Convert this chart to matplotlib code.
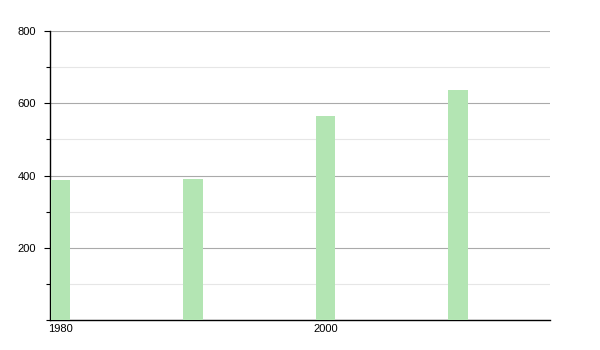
import matplotlib
matplotlib.use('Agg')
import matplotlib.pyplot as plt
from matplotlib.ticker import MultipleLocator

plt.rcParams['font.family'] = ['Liberation Sans', 'DejaVu Sans']

# Data.
years = [1980, 1990, 2000, 2010]
values = [388, 390, 565, 637]
x_ticks = [1980, 2000]
y_ticks = [200, 400, 600, 800]

fig = plt.figure(figsize=(6, 3.5), dpi=100)
ax = fig.add_axes([50 / 600, 30 / 350, 500 / 600, 289 / 350])

ax.bar(years, values, width=1.47, color='#b3e5b3', zorder=3)

ax.set_xlim(1979.2, 2016.93)
ax.set_ylim(0, 800)
ax.set_xticks(x_ticks)
ax.set_xticklabels([str(y) for y in x_ticks])
ax.set_yticks(y_ticks)
ax.yaxis.set_minor_locator(MultipleLocator(100))

ax.grid(axis='y', which='major', color='#aaaaaa', linewidth=0.8, zorder=0)
ax.grid(axis='y', which='minor', color='#e6e6e6', linewidth=0.8, zorder=0)

for side in ['top', 'right']:
    ax.spines[side].set_visible(False)
ax.spines['left'].set_linewidth(1.0)
ax.spines['bottom'].set_linewidth(1.0)

ax.tick_params(axis='y', which='major', length=4, width=0.8, labelsize=8, pad=6)
ax.tick_params(axis='y', which='minor', length=3, width=0.8)
ax.tick_params(axis='x', length=0, labelsize=8, pad=3)

fig.savefig('out.png', dpi=100)
